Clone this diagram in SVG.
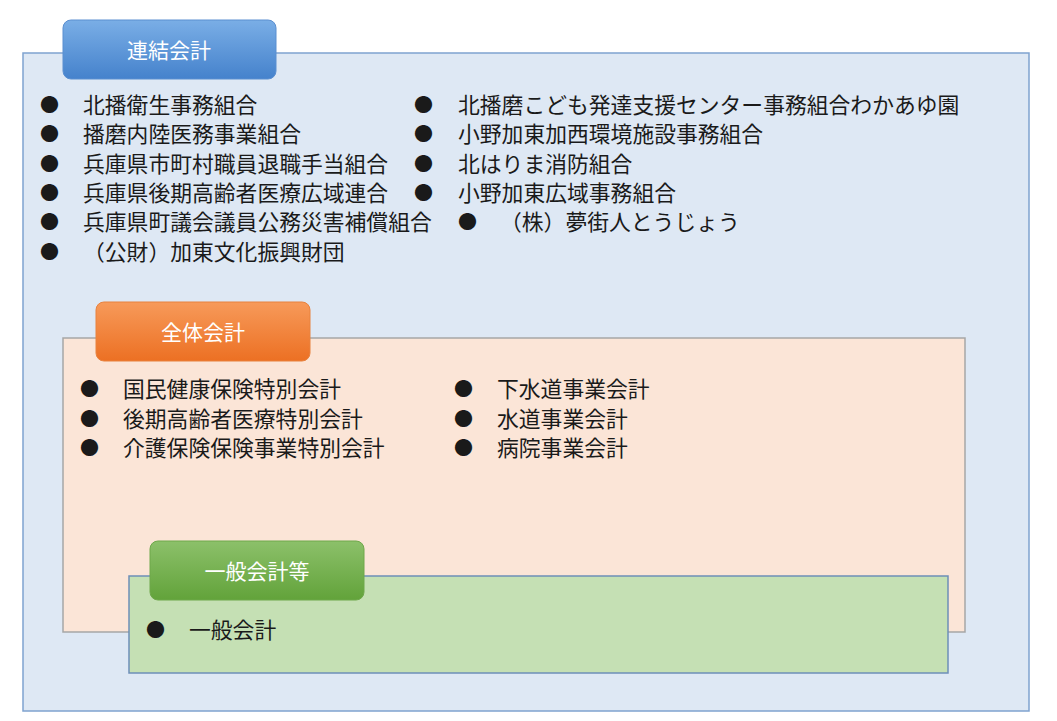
<svg xmlns="http://www.w3.org/2000/svg" width="1057" height="721" viewBox="0 0 1057 721">
<defs>
<linearGradient id="gb" x1="0" y1="0" x2="0" y2="1"><stop offset="0" stop-color="#7aaee6"/><stop offset="1" stop-color="#4582cc"/></linearGradient>
<linearGradient id="go" x1="0" y1="0" x2="0" y2="1"><stop offset="0" stop-color="#f79a5a"/><stop offset="1" stop-color="#ec7023"/></linearGradient>
<linearGradient id="gg" x1="0" y1="0" x2="0" y2="1"><stop offset="0" stop-color="#8cc06a"/><stop offset="1" stop-color="#62a33a"/></linearGradient>
</defs>
<style>
text{font-family:"Noto Sans CJK JP","Liberation Sans",sans-serif;font-size:21.8px;fill:#1a1a1a}
.t{fill:#fff;font-size:21px;text-anchor:middle}
.b{font-size:19px}
.tab{stroke-width:1}
</style>
<rect width="1057" height="721" fill="#fff"/>
<g id="consolidated">
<rect x="23" y="53" width="1006" height="658" fill="#dee8f4" stroke="#7fa3cf" stroke-width="1.5"/>
<rect class="tab" x="63" y="20" width="213" height="59" rx="8" fill="url(#gb)" stroke="#5b8fd0"/>
<text class="t" x="169" y="58">連結会計</text>
<text class="b" x="40" y="112">●</text><text x="83" y="113">北播衛生事務組合</text>
<text class="b" x="40" y="141">●</text><text x="83" y="142">播磨内陸医務事業組合</text>
<text class="b" x="40" y="171">●</text><text x="83" y="172">兵庫県市町村職員退職手当組合</text>
<text class="b" x="40" y="200">●</text><text x="83" y="201">兵庫県後期高齢者医療広域連合</text>
<text class="b" x="40" y="229">●</text><text x="83" y="230">兵庫県町議会議員公務災害補償組合</text>
<text class="b" x="40" y="259">●</text><text x="83" y="260">（公財）加東文化振興財団</text>
<text class="b" x="414" y="112">●</text><text x="458" y="113">北播磨こども発達支援センター事務組合わかあゆ園</text>
<text class="b" x="414" y="141">●</text><text x="458" y="142">小野加東加西環境施設事務組合</text>
<text class="b" x="414" y="171">●</text><text x="458" y="172">北はりま消防組合</text>
<text class="b" x="414" y="200">●</text><text x="458" y="201">小野加東広域事務組合</text>
<text class="b" x="458" y="229">●</text><text x="500" y="230">（株）夢街人とうじょう</text>
</g>
<g id="whole">
<rect x="63" y="338" width="902" height="294" fill="#fbe5d7" stroke="#a6a6a6" stroke-width="1.5"/>
<rect class="tab" x="96" y="302" width="214" height="59" rx="8" fill="url(#go)" stroke="#e8823f"/>
<text class="t" x="203" y="340">全体会計</text>
<text class="b" x="80" y="396">●</text><text x="123" y="397">国民健康保険特別会計</text>
<text class="b" x="80" y="426">●</text><text x="123" y="427">後期高齢者医療特別会計</text>
<text class="b" x="80" y="455">●</text><text x="123" y="456">介護保険保険事業特別会計</text>
<text class="b" x="454" y="396">●</text><text x="497" y="397">下水道事業会計</text>
<text class="b" x="454" y="426">●</text><text x="497" y="427">水道事業会計</text>
<text class="b" x="454" y="455">●</text><text x="497" y="456">病院事業会計</text>
</g>
<g id="general">
<rect x="129" y="576" width="819" height="97" fill="#c5e0b4" stroke="#6d8fb8" stroke-width="1.5"/>
<rect class="tab" x="150" y="541" width="214" height="59" rx="8" fill="url(#gg)" stroke="#6fa84b"/>
<text class="t" x="257" y="579">一般会計等</text>
<text class="b" x="146" y="637">●</text><text x="189" y="638">一般会計</text>
</g>
<g id="connectors"/>
</svg>
